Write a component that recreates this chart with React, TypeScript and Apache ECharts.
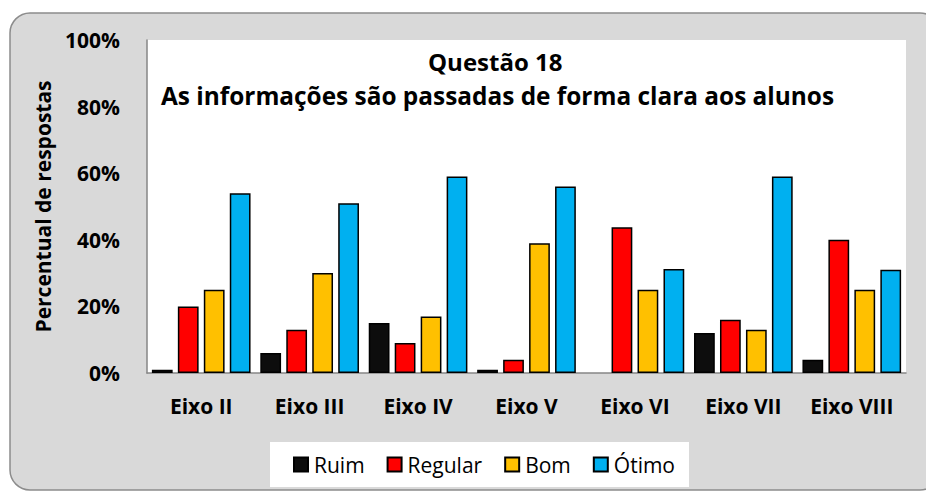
import React, { useEffect, useRef } from "react";
import * as echarts from "echarts";

const categories = ["Eixo II", "Eixo III", "Eixo IV", "Eixo V", "Eixo VI", "Eixo VII", "Eixo VIII"];
const ruim = [1, 6, 15, 1, 0, 12, 4];
const regular = [20, 13, 9, 4, 43.75, 16, 40];
const bom = [25, 30, 17, 39, 25, 13, 25];
const otimo = [54, 51, 59, 56, 31.25, 59, 31];
const seriesNames = ["Ruim", "Regular", "Bom", "Ótimo"];
const colors = ["#0d0d0d", "#ff0000", "#ffc000", "#00b0f0"];
const titleLines = ["Questão 18", "As informações são passadas de forma clara aos alunos"];
const yAxisTitle = "Percentual de respostas";

const FONT = "'Open Sans', 'Noto Sans', sans-serif";

export default function App() {
  const ref = useRef<HTMLDivElement>(null);
  useEffect(() => {
    document.body.style.margin = "0";
    const chart = echarts.init(ref.current!, null, { renderer: "svg" });
    const data = [ruim, regular, bom, otimo];
    chart.setOption({
      animation: false,
      textStyle: { fontFamily: FONT },
      graphic: [
        {
          type: "rect",
          z: -10,
          shape: { x: 10, y: 13, width: 930, height: 477, r: 20 },
          style: { fill: "#d9d9d9", stroke: "#8c8c8c", lineWidth: 1.5 },
        },
        {
          type: "text",
          left: 428,
          top: 49,
          z: 10,
          style: { text: titleLines[0], font: `bold 24px ${FONT}`, fill: "#000" },
        },
        {
          type: "text",
          left: 161,
          top: 83,
          z: 10,
          style: { text: titleLines[1], font: `bold 24.4px ${FONT}`, fill: "#000" },
        },
      ],
      grid: {
        left: 147,
        top: 40,
        right: 20,
        bottom: 125,
        show: true,
        backgroundColor: "#ffffff",
        borderWidth: 0,
      },
      legend: {
        left: 270,
        top: 442,
        backgroundColor: "#ffffff",
        padding: [12, 14, 12, 23],
        itemWidth: 14,
        itemHeight: 14,
        itemGap: 22,
        icon: "rect",
        textStyle: { fontFamily: FONT, fontSize: 21, color: "#000", padding: [0, 0, 0, 1] },
        data: seriesNames,
      },
      xAxis: {
        type: "category",
        data: categories,
        axisLine: { lineStyle: { color: "#868686", width: 1.5 } },
        axisTick: { show: false },
        axisLabel: {
          fontFamily: FONT,
          fontWeight: "bold",
          fontSize: 21,
          color: "#000",
          margin: 22,
        },
      },
      yAxis: {
        type: "value",
        min: 0,
        max: 100,
        interval: 20,
        name: yAxisTitle,
        nameLocation: "middle",
        nameGap: 94,
        nameTextStyle: { fontFamily: FONT, fontWeight: "bold", fontSize: 21, color: "#000" },
        splitLine: { show: false },
        axisLine: { show: true, lineStyle: { color: "#868686", width: 1.5 } },
        axisTick: { show: false },
        axisLabel: {
          formatter: "{value}%",
          fontFamily: FONT,
          fontWeight: "bold",
          fontSize: 21,
          color: "#000",
          margin: 27,
        },
      },
      series: seriesNames.map((name, i) => ({
        name,
        type: "bar",
        data: data[i].map((v) => (v === 0 ? { value: 0, itemStyle: { borderWidth: 0 } } : v)),
        barGap: "25%",
        barCategoryGap: "9%",
        itemStyle: { color: colors[i], borderColor: "#000", borderWidth: 1.5 },
      })),
    });
    return () => chart.dispose();
  }, []);
  return <div ref={ref} style={{ width: 926, height: 498 }} />;
}
